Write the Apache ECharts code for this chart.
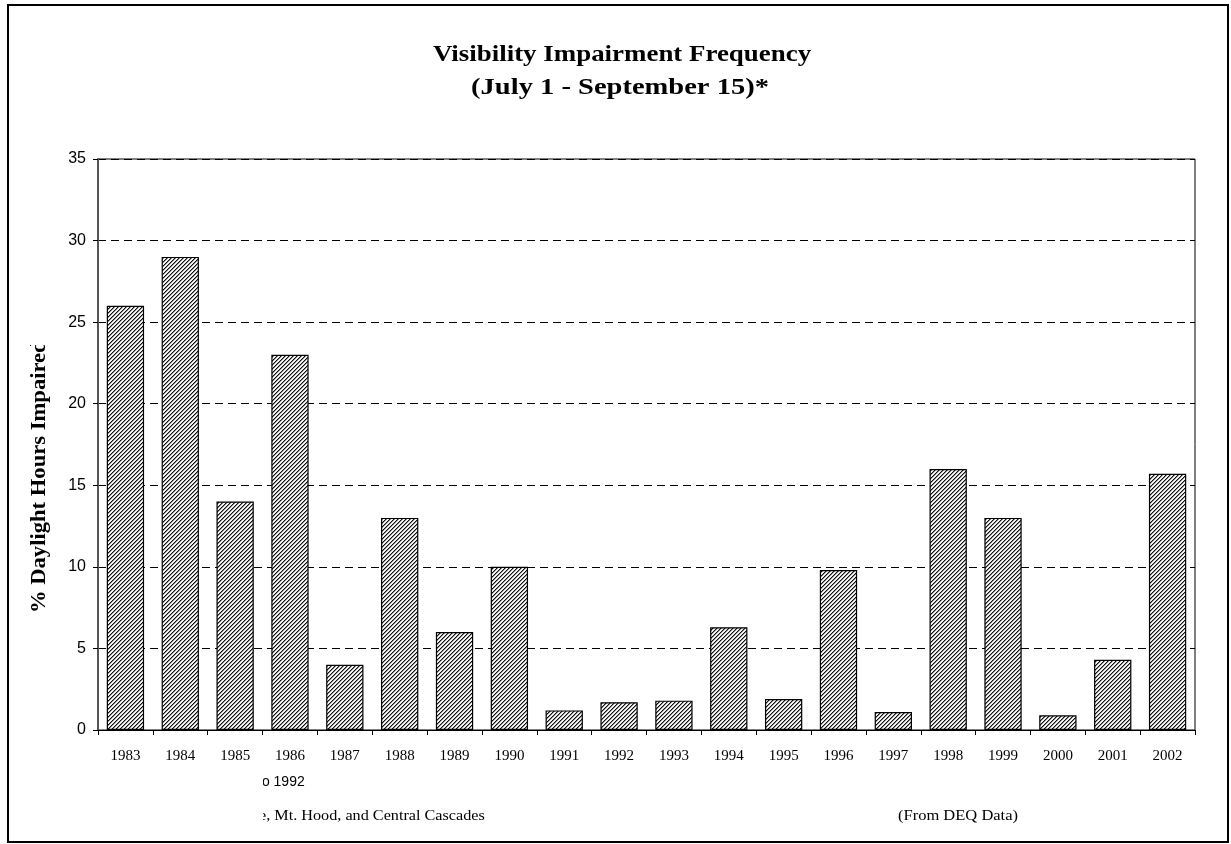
<!DOCTYPE html>
<html>
<head>
<meta charset="utf-8">
<script src="https://cdn.jsdelivr.net/npm/echarts@6/dist/echarts.min.js"></script>
<style>
html,body{margin:0;padding:0;background:#fff;}
#chart{width:1231px;height:844px;}
</style>
</head>
<body>
<div id="chart"></div>
<script>
const years = ['1983','1984','1985','1986','1987','1988','1989','1990','1991','1992','1993','1994','1995','1996','1997','1998','1999','2000','2001','2002'];
const impairedPct = [26, 29, 14, 23, 4, 13, 6, 10, 1.2, 1.7, 1.8, 6.3, 1.9, 9.8, 1.1, 16, 13, 0.9, 4.3, 15.7];
const yTicks = { min: 0, max: 35, interval: 5 };
const titleLines = ['Visibility Impairment Frequency', '(July 1 - September 15)*'];
const yAxisTitle = '% Daylight Hours Impaired';
const footnote1 = 'to 1992';
const footnote2 = 'e, Mt. Hood, and Central Cascades';
const sourceNote = '(From DEQ Data)';

// hatch pattern
const pc = document.createElement('canvas');
pc.width = 4; pc.height = 4;
const pctx = pc.getContext('2d');
pctx.fillStyle = '#ffffff';
pctx.fillRect(0,0,4,4);
for (let x = 0; x < 4; x++) {
  for (let y = 0; y < 4; y++) {
    const d = (x + y) % 4;
    if (d === 0) { pctx.fillStyle = '#111111'; pctx.fillRect(x,y,1,1); }
    else if (d === 1) { pctx.fillStyle = '#8a8a8a'; pctx.fillRect(x,y,1,1); }
    else if (d === 3) { pctx.fillStyle = '#e6e6e6'; pctx.fillRect(x,y,1,1); }
  }
}

const serif = '"Liberation Serif", "Times New Roman", serif';
const sans = '"Liberation Sans", Arial, sans-serif';

const chart = echarts.init(document.getElementById('chart'), null, {renderer: 'canvas'});
const option = {
  animation: false,
  backgroundColor: '#ffffff',
  grid: {
    left: 98, right: 36, top: 159, bottom: 114,
    show: true, borderColor: '#000', borderWidth: 1, backgroundColor: 'transparent'
  },
  xAxis: {
    type: 'category',
    data: years,
    axisLine: { lineStyle: { color: '#000', width: 1 } },
    axisTick: { show: true, length: 5, inside: false, lineStyle: { color: '#000' } },
    axisLabel: {
      fontFamily: serif,
      fontSize: 15, color: '#000', margin: 19
    }
  },
  yAxis: {
    type: 'value',
    min: yTicks.min, max: yTicks.max, interval: yTicks.interval,
    axisLine: { show: true, lineStyle: { color: '#555', width: 2 } },
    axisTick: { show: true, length: 5, lineStyle: { color: '#000' } },
    axisLabel: {
      fontFamily: sans,
      fontSize: 16, color: '#000', margin: 12
    },
    splitLine: { show: true, lineStyle: { color: '#000', type: [8, 5], width: 1 } }
  },
  series: [{
    type: 'bar',
    data: impairedPct,
    barCategoryGap: '32%',
    itemStyle: {
      color: { image: pc, repeat: 'repeat' },
      borderColor: '#000',
      borderWidth: 1.2
    }
  }],
  graphic: [
    {
      type: 'rect', z: 0, silent: true,
      shape: { x: 8, y: 5, width: 1220, height: 837 },
      style: { fill: 'none', stroke: '#000', lineWidth: 2 }
    },
    {
      type: 'text', z: 10, silent: true,
      x: 622, y: 55, scaleX: 1.17,
      style: {
        text: titleLines[0],
        font: 'bold 23px ' + serif,
        fill: '#000', textAlign: 'center', textVerticalAlign: 'middle'
      }
    },
    {
      type: 'text', z: 10, silent: true,
      x: 620, y: 88, scaleX: 1.24,
      style: {
        text: titleLines[1],
        font: 'bold 23px ' + serif,
        fill: '#000', textAlign: 'center', textVerticalAlign: 'middle'
      }
    },
    {
      type: 'text', z: 10, silent: true,
      x: 40, y: 613, rotation: Math.PI / 2, scaleX: 1.13,
      style: {
        text: yAxisTitle,
        font: 'bold 20px ' + serif,
        fill: '#000', textAlign: 'left', textVerticalAlign: 'middle'
      }
    },
    {
      type: 'rect', z: 20, silent: true,
      shape: { x: 24, y: 290, width: 34, height: 55 },
      style: { fill: '#fff' }
    },
    {
      type: 'text', z: 10, silent: true,
      x: 258, y: 782,
      style: {
        text: footnote1,
        font: '14px ' + sans,
        fill: '#000', textAlign: 'left', textVerticalAlign: 'middle'
      }
    },
    {
      type: 'text', z: 10, silent: true,
      x: 259, y: 816, scaleX: 1.08,
      style: {
        text: footnote2,
        font: '15px ' + serif,
        fill: '#000', textAlign: 'left', textVerticalAlign: 'middle'
      }
    },
    {
      type: 'rect', z: 20, silent: true,
      shape: { x: 245, y: 770, width: 18, height: 58 },
      style: { fill: '#fff' }
    },
    {
      type: 'text', z: 10, silent: true,
      x: 958, y: 816, scaleX: 1.1,
      style: {
        text: sourceNote,
        font: '15px ' + serif,
        fill: '#000', textAlign: 'center', textVerticalAlign: 'middle'
      }
    }
  ]
};
chart.setOption(option);
</script>
</body>
</html>
